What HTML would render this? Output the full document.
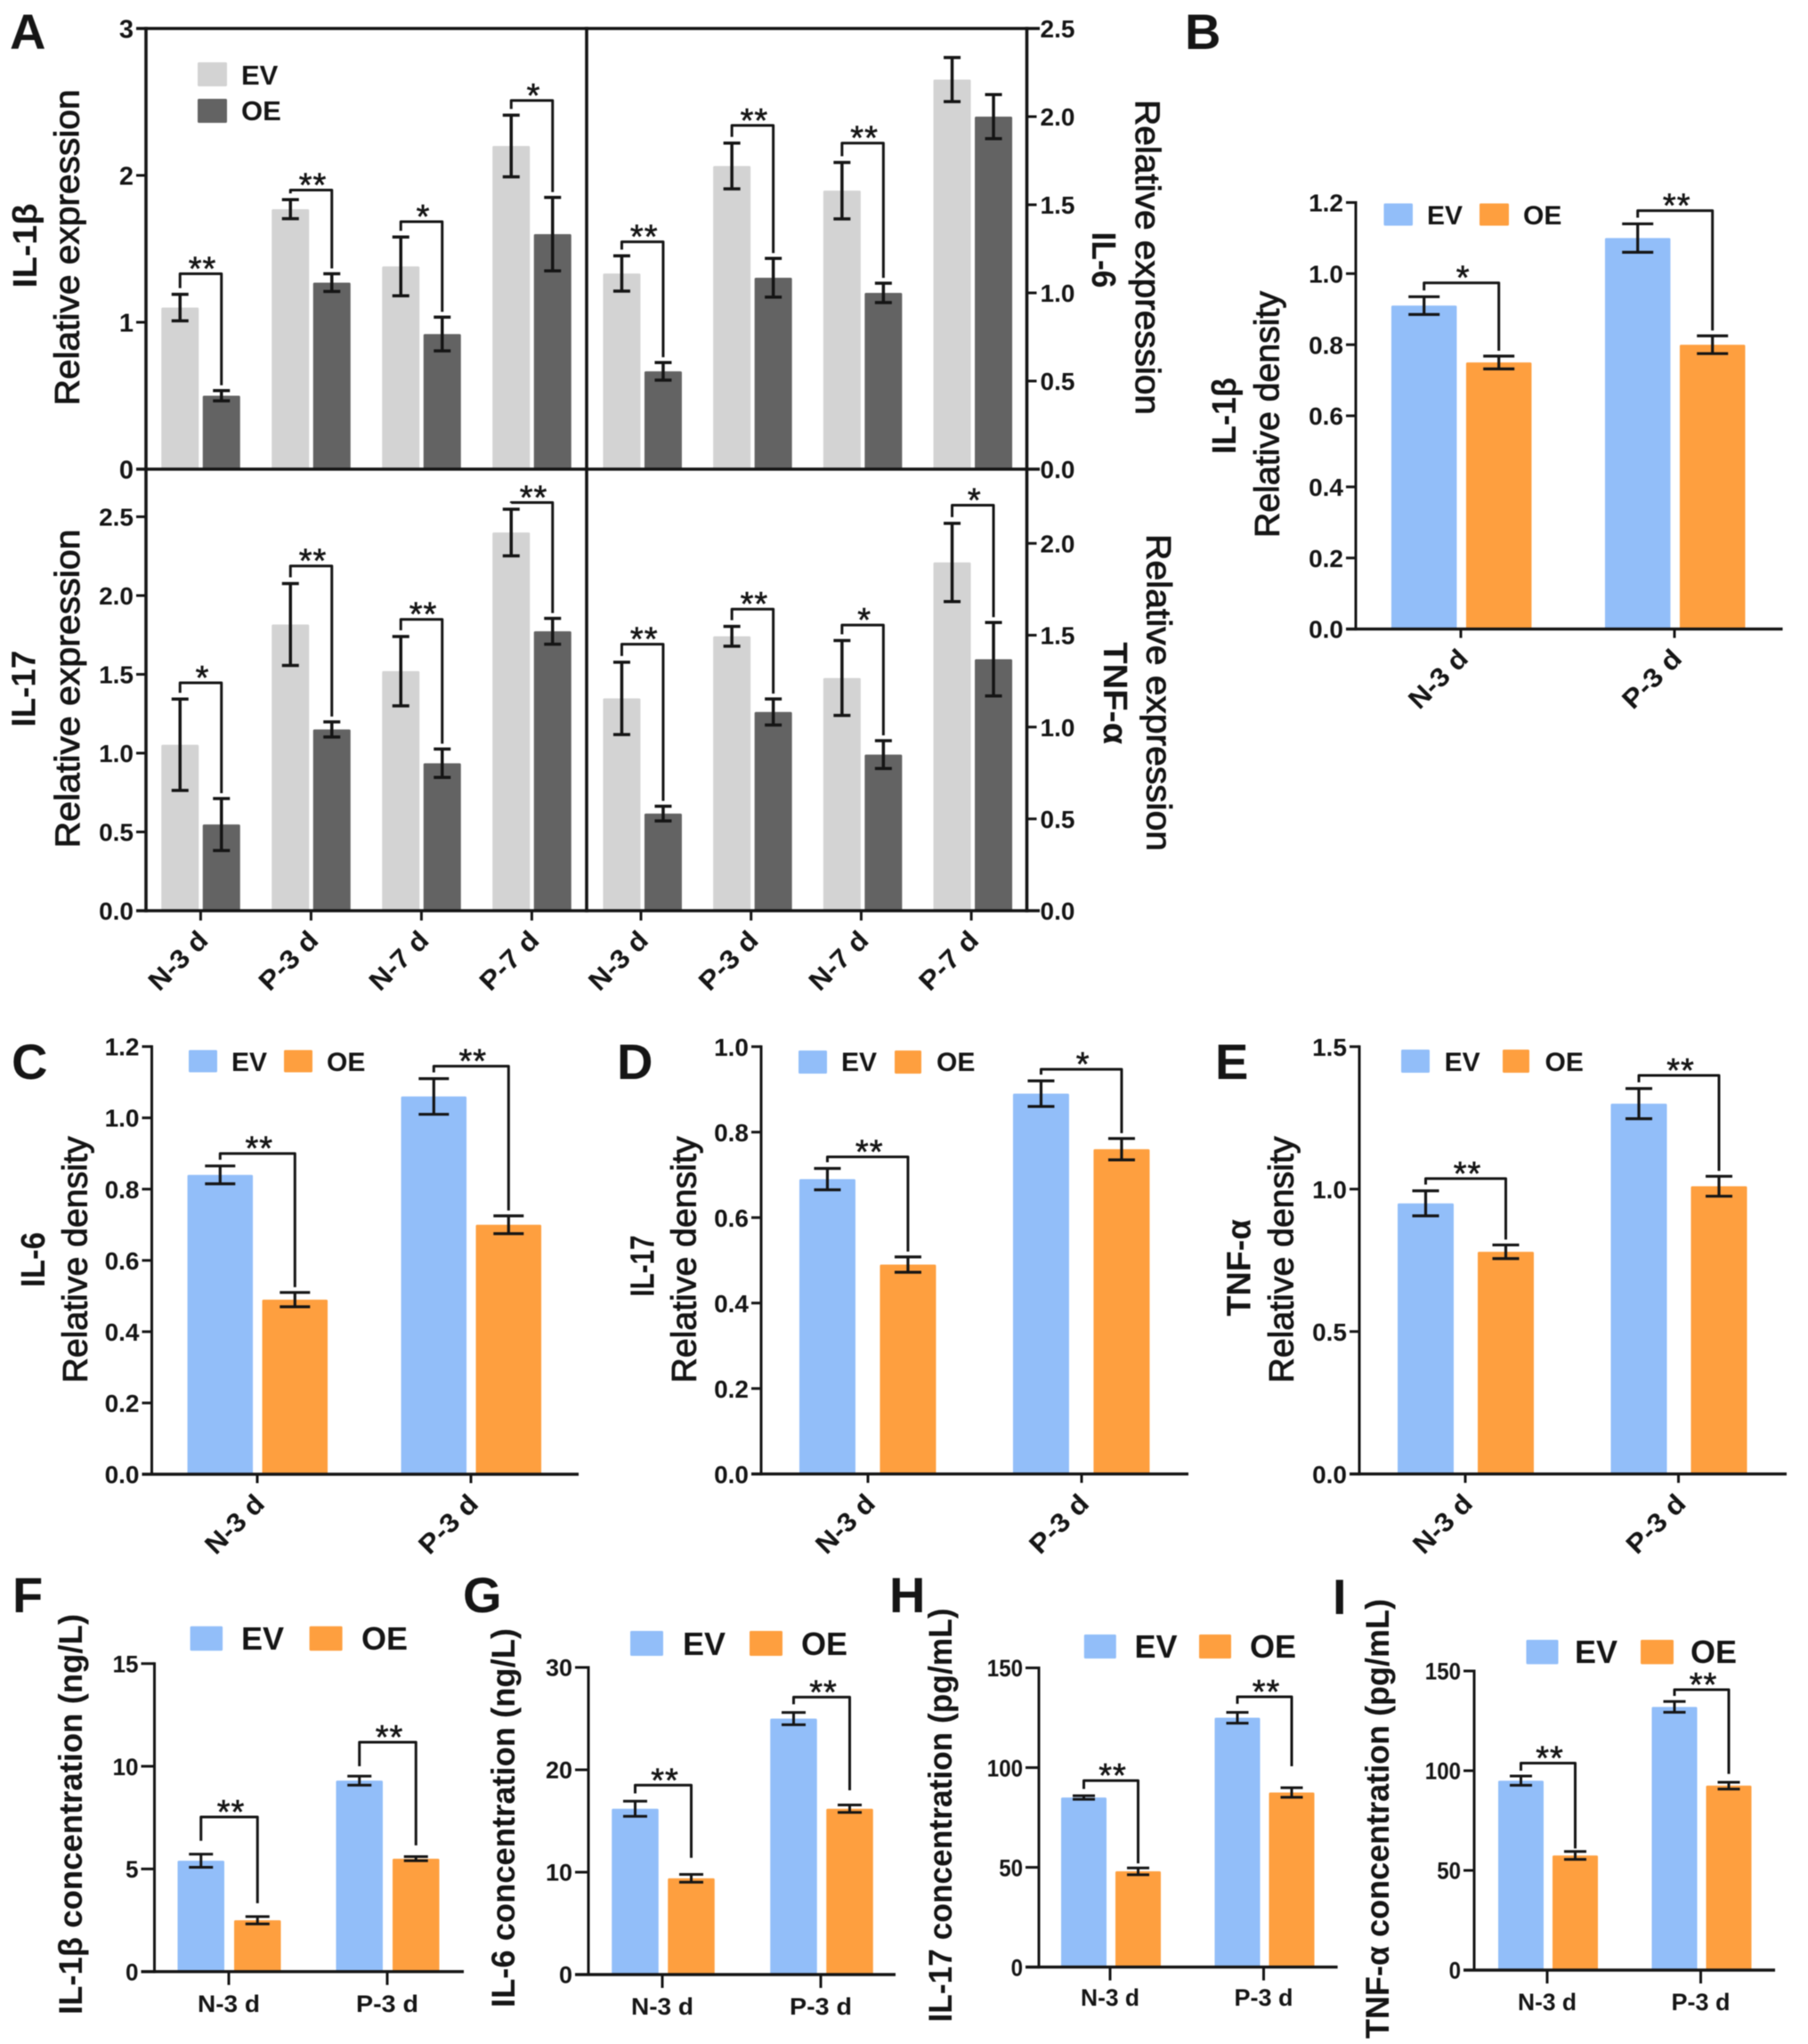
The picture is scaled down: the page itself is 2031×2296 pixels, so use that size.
<!DOCTYPE html>
<html lang="en">
<head>
<meta charset="utf-8">
<title>Cytokine expression panels</title>
<style>
html,body{margin:0;padding:0;background:#fff;}
svg{display:block;filter:blur(0.6px);}
text{font-family:"Liberation Sans",sans-serif;fill:#151515;}
.letter{font-size:56px;font-weight:700;}
.tb{font-size:38px;font-weight:700;}
.tr{font-size:39px;font-weight:400;stroke:#151515;stroke-width:.9px;}
.tc{font-size:37px;font-weight:700;}
</style>
</head>
<body>
<svg id="chart" xmlns="http://www.w3.org/2000/svg" width="2031" height="2296" viewBox="0 0 2031 2296">
<rect x="0" y="0" width="2031" height="2296" fill="#fff"/>
<g id="marks"></g>

<text class="letter" x="11" y="55">A</text>
<text class="letter" x="1331" y="55">B</text>
<text class="letter" x="13" y="1212">C</text>
<text class="letter" x="693" y="1212">D</text>
<text class="letter" x="1365" y="1212">E</text>
<text class="letter" x="14" y="1811">F</text>
<text class="letter" x="520" y="1811">G</text>
<text class="letter" x="999" y="1811">H</text>
<text class="letter" x="1497" y="1813">I</text>

<text class="tb" text-anchor="middle" transform="translate(41,276) rotate(-90)" textLength="95" lengthAdjust="spacingAndGlyphs">IL-1β</text>
<text class="tr" text-anchor="middle" transform="translate(88.4,278) rotate(-90)" textLength="355" lengthAdjust="spacingAndGlyphs">Relative expression</text>
<text class="tb" text-anchor="middle" transform="translate(39.7,773.6) rotate(-90)" textLength="86" lengthAdjust="spacingAndGlyphs">IL-17</text>
<text class="tr" text-anchor="middle" transform="translate(89,773.5) rotate(-90)" textLength="358" lengthAdjust="spacingAndGlyphs">Relative expression</text>
<text class="tb" text-anchor="middle" transform="translate(1227,292) rotate(90)" textLength="63" lengthAdjust="spacingAndGlyphs">IL-6</text>
<text class="tr" text-anchor="middle" transform="translate(1276,289) rotate(90)" textLength="354" lengthAdjust="spacingAndGlyphs">Relative expression</text>
<text class="tb" text-anchor="middle" transform="translate(1240,778.7) rotate(90)" textLength="115" lengthAdjust="spacingAndGlyphs">TNF-α</text>
<text class="tr" text-anchor="middle" transform="translate(1288.6,778) rotate(90)" textLength="356" lengthAdjust="spacingAndGlyphs">Relative expression</text>

<text class="tb" text-anchor="middle" transform="translate(1388,467) rotate(-90)" textLength="86" lengthAdjust="spacingAndGlyphs">IL-1β</text>
<text class="tr" text-anchor="middle" transform="translate(1436.4,465.5) rotate(-90)" textLength="277" lengthAdjust="spacingAndGlyphs">Relative density</text>
<text class="tb" text-anchor="middle" transform="translate(50,1415) rotate(-90)" textLength="62" lengthAdjust="spacingAndGlyphs">IL-6</text>
<text class="tr" text-anchor="middle" transform="translate(97.4,1415) rotate(-90)" textLength="277" lengthAdjust="spacingAndGlyphs">Relative density</text>
<text class="tb" text-anchor="middle" transform="translate(734.7,1422) rotate(-90)" textLength="69" lengthAdjust="spacingAndGlyphs">IL-17</text>
<text class="tr" text-anchor="middle" transform="translate(781.7,1415) rotate(-90)" textLength="277" lengthAdjust="spacingAndGlyphs">Relative density</text>
<text class="tb" text-anchor="middle" transform="translate(1404.7,1424) rotate(-90)" textLength="109" lengthAdjust="spacingAndGlyphs">TNF-α</text>
<text class="tr" text-anchor="middle" transform="translate(1452.7,1415) rotate(-90)" textLength="277" lengthAdjust="spacingAndGlyphs">Relative density</text>

<text class="tc" text-anchor="middle" transform="translate(92,2038) rotate(-90)" textLength="450" lengthAdjust="spacingAndGlyphs">IL-1β concentration (ng/L)</text>
<text class="tc" text-anchor="middle" transform="translate(578,2042) rotate(-90)" textLength="426" lengthAdjust="spacingAndGlyphs">IL-6 concentration (ng/L)</text>
<text class="tc" text-anchor="middle" transform="translate(1069,2039) rotate(-90)" textLength="465" lengthAdjust="spacingAndGlyphs">IL-17 concentration (pg/mL)</text>
<text class="tc" text-anchor="middle" transform="translate(1560,2043) rotate(-90)" textLength="494" lengthAdjust="spacingAndGlyphs">TNF-α concentration (pg/mL)</text>
</svg>

<script>
// ---------- data ----------
const catsA = ["N-3 d","P-3 d","N-7 d","P-7 d"];
const catsB = ["N-3 d","P-3 d"];

const a1Ev = [1.10,1.77,1.38,2.20];
const a1Oe = [0.50,1.27,0.92,1.60];
const a1EvErr = [0.09,0.065,0.20,0.21];
const a1OeErr = [0.035,0.06,0.115,0.25];
const a1Bracket = [1.33,1.90,1.685,2.51];
const a1Stars = ["**","**","*","*"];
const a1Ticks = ["0","1","2","3"];

const a2Ev = [1.11,1.72,1.58,2.21];
const a2Oe = [0.555,1.086,1.00,2.00];
const a2EvErr = [0.10,0.13,0.16,0.125];
const a2OeErr = [0.05,0.11,0.055,0.125];
const a2Bracket = [1.29,1.95,1.85,null];
const a2Stars = ["**","**","**",""];
const a2Ticks = ["0.0","0.5","1.0","1.5","2.0","2.5"];

const a3Ev = [1.053,1.816,1.52,2.40];
const a3Oe = [0.547,1.15,0.936,1.773];
const a3EvErr = [0.29,0.26,0.22,0.148];
const a3OeErr = [0.165,0.048,0.09,0.082];
const a3Bracket = [1.446,2.188,1.849,2.59];
const a3Stars = ["*","**","**","**"];
const a3Ticks = ["0.0","0.5","1.0","1.5","2.0","2.5"];

const a4Ev = [1.156,1.494,1.267,1.896];
const a4Oe = [0.529,1.082,0.85,1.369];
const a4EvErr = [0.197,0.054,0.204,0.213];
const a4OeErr = [0.04,0.071,0.076,0.20];
const a4Bracket = [1.451,1.642,1.555,2.208];
const a4Stars = ["**","**","*","*"];
const a4Ticks = ["0.0","0.5","1.0","1.5","2.0"];

const bEv = [0.91,1.10];
const bOe = [0.75,0.80];
const bEvErr = [0.025,0.04];
const bOeErr = [0.018,0.025];
const bBracket = [0.974,1.177];
const bStars = ["*","**"];
const bTicks = ["0.0","0.2","0.4","0.6","0.8","1.0","1.2"];

const cEv = [0.84,1.06];
const cOe = [0.49,0.70];
const cEvErr = [0.025,0.05];
const cOeErr = [0.02,0.025];
const cBracket = [0.90,1.145];
const cStars = ["**","**"];
const cTicks = ["0.0","0.2","0.4","0.6","0.8","1.0","1.2"];

const dEv = [0.69,0.89];
const dOe = [0.49,0.76];
const dEvErr = [0.025,0.03];
const dOeErr = [0.018,0.025];
const dBracket = [0.742,0.947];
const dStars = ["**","*"];
const dTicks = ["0.0","0.2","0.4","0.6","0.8","1.0"];

const eEv = [0.95,1.30];
const eOe = [0.78,1.01];
const eEvErr = [0.044,0.053];
const eOeErr = [0.024,0.035];
const eBracket = [1.037,1.399];
const eStars = ["**","**"];
const eTicks = ["0.0","0.5","1.0","1.5"];

const fEv = [5.4,9.3];
const fOe = [2.5,5.5];
const fEvErr = [0.32,0.22];
const fOeErr = [0.18,0.1];
const fBracket = [7.53,11.17];
const fLegLeft = [6.37,10.0];
const fLegRight = [3.33,6.15];
const fStars = ["**","**"];
const fTicks = ["0","5","10","15"];

const gEv = [16.2,25.0];
const gOe = [9.4,16.2];
const gEvErr = [0.74,0.6];
const gOeErr = [0.38,0.36];
const gBracket = [18.5,27.1];
const gLegLeft = [17.7,26.4];
const gLegRight = [11.4,18.0];
const gStars = ["**","**"];
const gTicks = ["0","10","20","30"];

const hEv = [85,125];
const hOe = [48,87.5];
const hEvErr = [0.9,2.7];
const hOeErr = [1.7,2.4];
const hBracket = [93.5,135.5];
const hLegLeft = [89.3,132];
const hLegRight = [52,100.7];
const hStars = ["**","**"];
const hTicks = ["0","50","100","150"];

const iEv = [95,132];
const iOe = [57.5,92.5];
const iEvErr = [2.3,2.7];
const iOeErr = [2.0,1.7];
const iBracket = [103.8,140.6];
const iLegLeft = [100,137.5];
const iLegRight = [61,98.4];
const iStars = ["**","**"];
const iTicks = ["0","50","100","150"];

const legendLabels = ["EV","OE"];

// ---------- drawing ----------
const NS = "http://www.w3.org/2000/svg";
const root = document.getElementById("marks");
const INK = "#151515";
const BLUE = "#92BEF9", ORANGE = "#FE9F3F", LIGHT = "#D3D3D3", DARK = "#636363";

function mk(tag, attrs, parent){
  const n = document.createElementNS(NS, tag);
  for (const k in attrs) n.setAttribute(k, attrs[k]);
  (parent || root).appendChild(n);
  return n;
}
function line(x1,y1,x2,y2,w,parent){
  return mk("line",{x1:x1,y1:y1,x2:x2,y2:y2,stroke:INK,"stroke-width":w,"stroke-linecap":"butt"},parent);
}

function drawPanel(p){
  const g = mk("g",{});
  
  

  const yScale = v => p.yZero - (v / p.max) * (p.yZero - p.yTop);
  const xCenter = i => p.cx0 + i * p.pitch;
  const barW = p.barW, gap = p.gap;
  const evX = i => xCenter(i) - gap / 2 - barW;
  const oeX = i => xCenter(i) + gap / 2;
  const sw = p.sw || 3.2;

  p.ev.forEach((v,i) => {
    const ex = evX(i), ox = oeX(i), o = p.oe[i];
    const a = mk("rect",{x:ex,y:yScale(v),width:barW,height:p.yZero-yScale(v),fill:p.colors[0],rx:1.5},g);
    
    
    const b = mk("rect",{x:ox,y:yScale(o),width:barW,height:p.yZero-yScale(o),fill:p.colors[1],rx:1.5},g);
    
    
  });

  function errBar(cx, v, e, nm){
    const eg = mk("g",{},g);
    
    
    line(cx,yScale(v+e),cx,yScale(v-e),sw,eg);
    line(cx-p.cap/2,yScale(v+e),cx+p.cap/2,yScale(v+e),sw,eg);
    line(cx-p.cap/2,yScale(v-e),cx+p.cap/2,yScale(v-e),sw,eg);
  }
  p.ev.forEach((v,i) => {
    errBar(evX(i)+barW/2, v, p.evErr[i], 'error-bar-ev');
    errBar(oeX(i)+barW/2, p.oe[i], p.oeErr[i], 'error-bar-oe');
  });

  p.bracket.forEach((b,i) => {
    if (b === null) return;
    const l = evX(i)+barW/2, r = oeX(i)+barW/2;
    const yb = yScale(b);
    const yl = p.legL ? yScale(p.legL[i]) : yScale(p.ev[i]+p.evErr[i]) - 7;
    const yr = p.legR ? yScale(p.legR[i]) : yScale(p.oe[i]+p.oeErr[i]) - 6;
    const path = mk("path",{d:"M"+l+" "+yl+"L"+l+" "+yb+"L"+r+" "+yb+"L"+r+" "+yr,fill:"none",stroke:INK,"stroke-width":3,"stroke-linejoin":"round"},g);
    
    
    const s = mk("text",{x:(l+r)/2+2,y:yb+7,"text-anchor":"middle","font-size":38,"letter-spacing":1,stroke:INK,"stroke-width":0.6},g);
    s.textContent = p.stars[i];
    
    
  });

  // y axis
  const ax = p.axisX;
  if (p.drawAxis !== false){
    const yl = line(ax,p.yTop-1.5,ax,p.yZero+1.5,p.axisW||3,g);
    
    
    const xl = line(ax-p.tickLen,p.yZero,p.x1,p.yZero,p.axisW||3.4,g);
    
    
  }
  const dir = p.side === "right" ? 1 : -1;
  p.ticks.forEach(lbl => {
    const v = parseFloat(lbl), y = yScale(v);
    if (p.tickMarks !== false){
      const t = line(ax,y,ax+dir*p.tickLen,y,3,g);
      
      
    }
    const tx = mk("text",{x:ax+dir*(p.tickLen+(p.side==="right"?4:3)),y:y+p.tickFs*0.36,"text-anchor":p.side==="right"?"start":"end","font-size":p.tickFs,"font-weight":700},g);
    if (p.tickCharW) { tx.setAttribute("textLength", lbl.length*p.tickCharW); tx.setAttribute("lengthAdjust","spacingAndGlyphs"); }
    tx.textContent = lbl;
    
    
  });

  // x ticks + labels
  if (p.cats){
    p.cats.forEach((c,i) => {
      const cx = p.tickX0 + i * p.pitch;
      const t = line(cx,p.yZero,cx,p.yZero+p.xTickLen,3,g);
      
      
      const attrs = p.rotate
        ? {transform:"translate("+(cx+10)+","+(p.yZero+35)+") rotate(-45)","text-anchor":"end","font-size":30,"font-weight":700,textLength:80,lengthAdjust:"spacingAndGlyphs"}
        : {x:cx,y:p.labelY,"text-anchor":"middle","font-size":27,"font-weight":700,textLength:p.labelLen,lengthAdjust:"spacingAndGlyphs"};
      const tx = mk("text",attrs,g);
      tx.textContent = c;
      
      
    });
  }

  // legend
  if (p.legend){
    const L = p.legend;
    L.boxes.forEach((r,i) => {
      const box = mk("rect",{x:r[0],y:r[1],width:r[2],height:r[3],fill:p.colors[i],rx:1.5},g);
      
      
      const tx = mk("text",{x:L.texts[i][0],y:L.texts[i][1],"font-size":L.fs,"font-weight":700},g);
      tx.textContent = legendLabels[i];
      
      
    });
  }
}

const gray = [LIGHT,DARK], color = [BLUE,ORANGE];

// Panel A (four sub-plots sharing a frame)
drawPanel({name:"a-il1b",ev:a1Ev,oe:a1Oe,evErr:a1EvErr,oeErr:a1OeErr,bracket:a1Bracket,stars:a1Stars,ticks:a1Ticks,max:3,yTop:32,yZero:527,
  cx0:225.5,pitch:124,barW:42,gap:4.5,cap:19,colors:gray,axisX:164,x1:1153,tickLen:11,side:"left",tickFs:29,drawAxis:false,sw:3.5,
  legend:{fs:31,boxes:[[222,70,33,27],[222,111,33,27]],texts:[[271,95],[271,135]]}});
drawPanel({name:"a-il6",ev:a2Ev,oe:a2Oe,evErr:a2EvErr,oeErr:a2OeErr,bracket:a2Bracket,stars:a2Stars,ticks:a2Ticks,max:2.5,yTop:32,yZero:527,
  cx0:721.7,pitch:123.7,barW:42,gap:4.5,cap:19,colors:gray,axisX:1153.5,x1:1168,tickLen:11,side:"right",tickFs:28,drawAxis:false,sw:3.5});
drawPanel({name:"a-il17",ev:a3Ev,oe:a3Oe,evErr:a3EvErr,oeErr:a3OeErr,bracket:a3Bracket,stars:a3Stars,ticks:a3Ticks,max:2.802,yTop:527,yZero:1023,
  cx0:225.5,pitch:124,barW:42,gap:4.5,cap:19,colors:gray,axisX:164,x1:1153,tickLen:11,side:"left",tickFs:28,drawAxis:false,sw:3.5,
  cats:catsA,tickX0:225.4,xTickLen:11,rotate:true});
drawPanel({name:"a-tnf",ev:a4Ev,oe:a4Oe,evErr:a4EvErr,oeErr:a4OeErr,bracket:a4Bracket,stars:a4Stars,ticks:a4Ticks,max:2.404,yTop:527,yZero:1023,
  cx0:721.7,pitch:123.7,barW:42,gap:4.5,cap:19,colors:gray,axisX:1153.5,x1:1168,tickLen:11,side:"right",tickFs:28,drawAxis:false,sw:3.5,
  cats:catsA,tickX0:720,xTickLen:11,rotate:true});

// Panel A frame
const frame = mk("g",{});


line(153,32,1168,32,3.6,frame);
line(153,527,1168,527,3.6,frame);
line(153,1023,1168,1023,3.6,frame);
line(164,30.3,164,1024.7,3.6,frame);
line(659,30.3,659,1024.7,3.6,frame);
line(1153.5,30.3,1153.5,1024.7,3.6,frame);

// Panels B-E
drawPanel({name:"b",ev:bEv,oe:bOe,evErr:bEvErr,oeErr:bOeErr,bracket:bBracket,stars:bStars,ticks:bTicks,max:1.2,yTop:227.5,yZero:706.6,
  cx0:1641.7,pitch:240,barW:73.5,gap:10.5,cap:35,colors:color,axisX:1523,x1:2002.5,tickLen:11,side:"left",tickFs:28,
  cats:catsB,tickX0:1641,xTickLen:10,rotate:true,
  legend:{fs:30,boxes:[[1554.5,228.5,32.5,25],[1662,228.5,33,25]],texts:[[1603,252],[1711,252]]}});
drawPanel({name:"c",ev:cEv,oe:cOe,evErr:cEvErr,oeErr:cOeErr,bracket:cBracket,stars:cStars,ticks:cTicks,max:1.2,yTop:1175.6,yZero:1656,
  cx0:289.3,pitch:240,barW:73.5,gap:10.5,cap:34,colors:color,axisX:170.5,x1:650,tickLen:11,side:"left",tickFs:28,
  cats:catsB,tickX0:289,xTickLen:10,rotate:true,
  legend:{fs:30,boxes:[[212,1179.5,32,25],[319,1179.5,32,25]],texts:[[260,1203],[367,1203]]}});
drawPanel({name:"d",ev:dEv,oe:dOe,evErr:dEvErr,oeErr:dOeErr,bracket:dBracket,stars:dStars,ticks:dTicks,max:1,yTop:1175.7,yZero:1655.7,
  cx0:974.7,pitch:240,barW:63,gap:27.5,cap:30,colors:color,axisX:855,x1:1335,tickLen:11,side:"left",tickFs:28,
  cats:catsB,tickX0:975,xTickLen:10,rotate:true,
  legend:{fs:30,boxes:[[897,1180,32,26],[1005,1180,30,26]],texts:[[945,1203],[1052,1203]]}});
drawPanel({name:"e",ev:eEv,oe:eOe,evErr:eEvErr,oeErr:eOeErr,bracket:eBracket,stars:eStars,ticks:eTicks,max:1.5,yTop:1175.7,yZero:1655.7,
  cx0:1646.5,pitch:239.5,barW:63,gap:27,cap:30,colors:color,axisX:1527,x1:2007,tickLen:11,side:"left",tickFs:28,
  cats:catsB,tickX0:1646,xTickLen:10,rotate:true,
  legend:{fs:30,boxes:[[1574,1179,32,26],[1688,1179,30,26]],texts:[[1622.6,1203],[1735.5,1203]]}});

// Panels F-I
drawPanel({name:"f",ev:fEv,oe:fOe,evErr:fEvErr,oeErr:fOeErr,bracket:fBracket,legL:fLegLeft,legR:fLegRight,stars:fStars,ticks:fTicks,max:15,yTop:1868.7,yZero:2214.7,
  cx0:257.5,pitch:178,barW:52.5,gap:11,cap:27,colors:color,axisX:173.5,x1:521,tickLen:15,side:"left",tickFs:27,tickCharW:14.5,sw:3,
  cats:catsB,tickX0:257,xTickLen:15,labelY:2260,labelLen:70,
  legend:{fs:36,boxes:[[213.6,1826.7,36.5,27.5],[347.6,1826.7,37,27.5]],texts:[[271,1853],[406,1853]]}});
drawPanel({name:"g",ev:gEv,oe:gOe,evErr:gEvErr,oeErr:gOeErr,bracket:gBracket,legL:gLegLeft,legR:gLegRight,stars:gStars,ticks:gTicks,max:30,yTop:1873,yZero:2218,
  cx0:745,pitch:178,barW:52.5,gap:10.5,cap:27,colors:color,axisX:661,x1:1006,tickLen:15,side:"left",tickFs:27,tickCharW:15,sw:3,
  cats:catsB,tickX0:744,xTickLen:15,labelY:2263,labelLen:70,
  legend:{fs:36,boxes:[[708,1832,37,28],[842,1832,37,28]],texts:[[767,1859],[900,1859]]}});
drawPanel({name:"h",ev:hEv,oe:hOe,evErr:hEvErr,oeErr:hOeErr,bracket:hBracket,legL:hLegLeft,legR:hLegRight,stars:hStars,ticks:hTicks,max:150,yTop:1873.5,yZero:2209.6,
  cx0:1248,pitch:172.5,barW:51,gap:10,cap:25,colors:color,axisX:1167,x1:1502.6,tickLen:15,side:"left",tickFs:27,tickCharW:13.4,sw:3,
  cats:catsB,tickX0:1247,xTickLen:15,labelY:2253,labelLen:66,
  legend:{fs:36,boxes:[[1217.8,1836,36,27],[1347,1836,36,27]],texts:[[1274.5,1862],[1404,1862]]}});
drawPanel({name:"i",ev:iEv,oe:iOe,evErr:iEvErr,oeErr:iOeErr,bracket:iBracket,legL:iLegLeft,legR:iLegRight,stars:iStars,ticks:iTicks,max:150,yTop:1877,yZero:2213,
  cx0:1739,pitch:172.5,barW:51,gap:10,cap:25,colors:color,axisX:1656,x1:1994,tickLen:12,side:"left",tickFs:27,tickCharW:13.4,sw:3,
  cats:catsB,tickX0:1738,xTickLen:15,labelY:2258,labelLen:66,
  legend:{fs:36,boxes:[[1714.5,1842,36,27.4],[1843,1842,37,27.4]],texts:[[1769,1868],[1899,1868]]}});
</script>
</body>
</html>
